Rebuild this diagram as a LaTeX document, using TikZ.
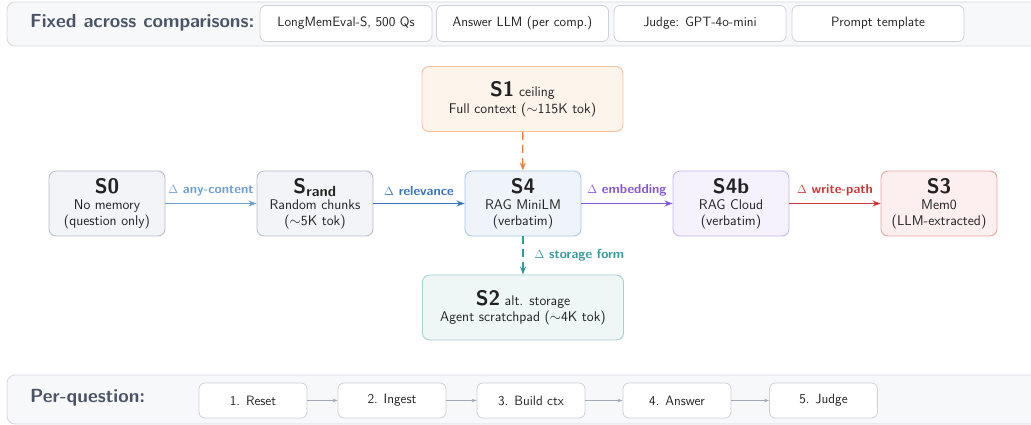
\documentclass[tikz,border=0pt]{standalone}
\usepackage{tikz}
\usetikzlibrary{arrows.meta}
\renewcommand{\familydefault}{\sfdefault}

\definecolor{bandfill}{HTML}{F7F8FA}
\definecolor{bandline}{HTML}{D5D8DE}
\definecolor{boxline}{HTML}{CDD1D8}
\definecolor{slate}{HTML}{4A5466}
\definecolor{ink}{HTML}{222222}
\definecolor{grayfill}{HTML}{F3F4F7}
\definecolor{grayline}{HTML}{B9BECB}
\definecolor{bluefill}{HTML}{EEF4FA}
\definecolor{blueline}{HTML}{A9C6E3}
\definecolor{purplefill}{HTML}{F5F1FD}
\definecolor{purpleline}{HTML}{C7B7EE}
\definecolor{redfill}{HTML}{FDEFEF}
\definecolor{redline}{HTML}{E9A3A3}
\definecolor{orangefill}{HTML}{FDF4EC}
\definecolor{orangeline}{HTML}{F3C29D}
\definecolor{tealfill}{HTML}{EEF7F6}
\definecolor{tealline}{HTML}{A3D2CE}
\definecolor{anyblue}{HTML}{6B9FD6}
\definecolor{relblue}{HTML}{3975BE}
\definecolor{embpurple}{HTML}{8557D9}
\definecolor{wred}{HTML}{CF3636}
\definecolor{ceilorange}{HTML}{E9803E}
\definecolor{storteal}{HTML}{35999A}
\definecolor{steparrow}{HTML}{A3AAB6}

\newcommand{\ttlsize}{\fontsize{21}{22}\selectfont\bfseries}
\newcommand{\subsize}{\fontsize{14}{15.5}\selectfont}

\tikzset{
  band/.style={fill=bandfill, draw=bandline, rounded corners=8pt, line width=0.8pt},
  bandlabel/.style={anchor=west, text=slate, font=\fontsize{19}{20}\selectfont\bfseries, inner sep=0pt},
  fixedbox/.style={fill=white, draw=boxline, rounded corners=6pt, line width=0.8pt,
    minimum width=172pt, minimum height=36pt, text=ink, font=\fontsize{13.5}{15}\selectfont},
  stepbox/.style={fill=white, draw=boxline, rounded corners=6pt, line width=0.8pt,
    minimum width=108pt, minimum height=35pt, text=ink, font=\fontsize{13.5}{15}\selectfont},
  stage/.style={rounded corners=7pt, line width=0.9pt, align=center, inner sep=2pt,
    minimum width=116pt, minimum height=65pt, text=ink, font=\subsize},
  wide/.style={stage, minimum width=201pt},
  flow/.style={line width=1.6pt, -{Stealth[length=8pt,width=6pt]}},
  steplink/.style={draw=steparrow, line width=0.8pt, -{Stealth[length=5pt,width=3.5pt]}},
  dlabel/.style={above=6pt, inner sep=1pt, font=\fontsize{13}{15}\selectfont\bfseries}
}

\begin{document}
\begin{tikzpicture}[x=1pt,y=-1pt]

\useasboundingbox (0,0) rectangle (1031,425);

% Fixed band
\draw[band] (7,2) rectangle (1050,46);
\node[bandlabel] (fixed) at (30,23) {Fixed across comparisons:};
\node[fixedbox] (lme) at (346,23.5) {LongMemEval-S, 500 Qs};
\node[fixedbox] (ansllm) at (522.5,23.5) {Answer LLM (per comp.)};
\node[fixedbox] (judgefix) at (700,23.5) {Judge: GPT-4o-mini};
\node[fixedbox] (prompt) at (878,23.5) {Prompt template};

% Systems
\node[wide, fill=orangefill, draw=orangeline] (s1) at (522.5,99)
  {{\ttlsize S1} ceiling\\[1pt]Full context ($\sim$115K tok)};
\node[stage, fill=grayfill, draw=grayline] (s0) at (107,203.5)
  {{\ttlsize S0}\\[1pt]No memory\\(question only)};
\node[stage, fill=grayfill, draw=grayline] (srand) at (315,203.5)
  {{\ttlsize S\textsubscript{rand}}\\[1pt]Random chunks\\($\sim$5K tok)};
\node[stage, fill=bluefill, draw=blueline] (s4) at (523,203.5)
  {{\ttlsize S4}\\[1pt]RAG MiniLM\\(verbatim)};
\node[stage, fill=purplefill, draw=purpleline] (s4b) at (731,203.5)
  {{\ttlsize S4b}\\[1pt]RAG Cloud\\(verbatim)};
\node[stage, fill=redfill, draw=redline] (s3) at (939,203.5)
  {{\ttlsize S3}\\[1pt]Mem0\\(LLM-extracted)};
\node[wide, fill=tealfill, draw=tealline] (s2) at (523,307.5)
  {{\ttlsize S2} alt. storage\\[1pt]Agent scratchpad ($\sim$4K tok)};

% Deltas
\draw[flow, anyblue] (s0) -- node[dlabel, text=anyblue] {$\Delta$ any-content} (srand);
\draw[flow, relblue] (srand) -- node[dlabel, text=relblue] {$\Delta$ relevance} (s4);
\draw[flow, embpurple] (s4) -- node[dlabel, text=embpurple] {$\Delta$ embedding} (s4b);
\draw[flow, wred] (s4b) -- node[dlabel, text=wred] {$\Delta$ write-path} (s3);
\draw[flow, ceilorange, line width=1.3pt, dash pattern=on 8pt off 5pt] (s1) -- (s4);
\draw[flow, storteal, line width=1.3pt, dash pattern=on 8pt off 5pt] (s4) --
  node[right=10pt, inner sep=1pt, text=storteal, font=\fontsize{13}{15}\selectfont\bfseries] {$\Delta$ storage form} (s2);

% Per-question band
\draw[band] (7,375) rectangle (1050,424);
\node[bandlabel] (perq) at (30,398) {Per-question:};
\node[stepbox] (reset) at (253,400.5) {1. Reset};
\node[stepbox] (ingest) at (392,400.5) {2. Ingest};
\node[stepbox] (buildctx) at (531,400.5) {3. Build ctx};
\node[stepbox] (answer) at (677,400.5) {4. Answer};
\node[stepbox] (judge) at (823.5,400.5) {5. Judge};
\draw[steplink] (reset) -- (ingest);
\draw[steplink] (ingest) -- (buildctx);
\draw[steplink] (buildctx) -- (answer);
\draw[steplink] (answer) -- (judge);

\end{tikzpicture}
\end{document}
